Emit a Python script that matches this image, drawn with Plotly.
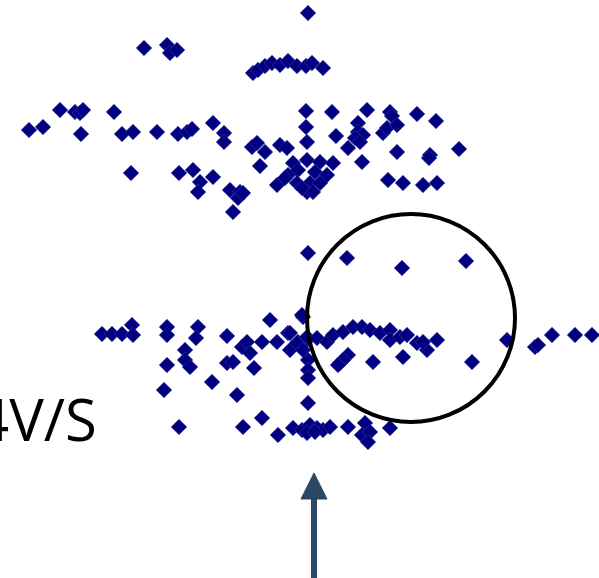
import plotly.graph_objects as go

# Upper band of samples (x, y in plot units)
upper_x = [308, 144, 167, 170, 177,
           253, 258, 265, 272, 280, 288, 297, 306, 312, 323,
           60, 75, 80, 83, 114,
           29, 43, 81, 122, 133, 157, 178, 187, 192, 213, 224, 224,
           131, 179, 193, 200, 198, 213, 230, 240, 238, 233,
           252, 257, 265, 280, 287, 260, 277,
           306, 332, 367, 390, 392, 417, 436, 306, 307, 336,
           358, 358, 363, 355, 360, 383, 387, 397, 348, 362, 397, 430, 429, 459,
           293, 307, 320, 333, 288, 298, 315, 327, 285, 297, 310, 320, 307, 313, 302,
           388, 403, 423, 437, 243]
upper_y = [13, 48, 45, 53, 50,
           73, 70, 66, 63, 65, 61, 66, 66, 63, 68,
           110, 112, 113, 110, 112,
           130, 127, 134, 134, 132, 132, 134, 132, 129, 123, 133, 142,
           173, 173, 170, 182, 192, 177, 190, 192, 198, 212,
           147, 143, 152, 145, 148, 166, 185,
           111, 112, 110, 112, 116, 114, 121, 127, 142, 136,
           123, 132, 135, 138, 142, 133, 128, 125, 148, 162, 152, 155, 158, 149,
           163, 160, 162, 163, 175, 170, 172, 175, 178, 183, 183, 183, 192, 192, 188,
           180, 183, 185, 183, 193]

# Lower band of samples
lower_x = [308, 347, 402, 466,
           102, 112, 122, 132, 133,
           167, 167, 198, 196, 227,
           185, 185, 190, 167, 227, 233,
           242, 247, 250, 262, 254, 212, 164, 237,
           270, 277, 288, 290, 298, 303, 307, 308, 308, 308, 308,
           179, 243, 262, 278,
           293, 302, 310, 317, 323, 330, 307, 315,
           348, 365, 362, 370, 368, 390,
           302, 290, 297, 307, 317, 327, 333, 343, 353, 362, 370, 380, 390, 390,
           400, 407, 417, 427, 437, 423,
           340, 348, 343, 338, 373, 403, 472, 507, 535, 538, 552, 575, 592, 303]
lower_y = [253, 258, 268, 261,
           334, 334, 334, 325, 335,
           327, 335, 327, 338, 336,
           350, 360, 367, 365, 363, 362,
           347, 342, 353, 342, 368, 382, 390, 395,
           320, 342, 333, 350, 342, 317, 340, 360, 370, 378, 403,
           427, 427, 418, 435,
           428, 430, 425, 428, 430, 427, 433, 432,
           427, 423, 435, 432, 442, 428,
           315, 333, 343, 337, 338, 342, 335, 332, 327, 327, 330, 333, 330, 340,
           337, 335, 343, 350, 340, 342,
           363, 355, 360, 365, 362, 357, 362, 340, 347, 345, 335, 335, 335, 350]

label_text = "4V/S"

W, H = 599, 578
marker = dict(symbol="diamond", size=12, color="#000080",
              line=dict(width=0.6, color="#3a3aa0"))

fig = go.Figure()
fig.add_trace(go.Scatter(x=upper_x, y=upper_y, mode="markers", marker=marker,
                         hoverinfo="skip", showlegend=False))
fig.add_trace(go.Scatter(x=lower_x, y=lower_y, mode="markers", marker=marker,
                         hoverinfo="skip", showlegend=False))

# Highlight ring around the off-centre group
fig.add_shape(type="circle", xref="x", yref="y", x0=307, x1=515, y0=214, y1=422,
              line=dict(color="black", width=4))

# Pointer arrow at the bottom
arrow_color = "#2A4766"
fig.add_shape(type="line", xref="x", yref="y", x0=314, x1=314, y0=578, y1=495,
              line=dict(color=arrow_color, width=6))
fig.add_shape(type="path", xref="x", yref="y",
              path="M 301,499 L 327,499 L 314,473 Z",
              fillcolor=arrow_color, line=dict(color=arrow_color, width=1))

fig.add_annotation(x=99, y=418, xref="x", yref="y", text=label_text,
                   showarrow=False, xanchor="right", yanchor="middle",
                   font=dict(family="Open Sans", size=58, color="black"))

fig.update_xaxes(range=[0, W], visible=False, fixedrange=True)
fig.update_yaxes(range=[H, 0], visible=False, fixedrange=True)
fig.update_layout(width=W, height=H, margin=dict(l=0, r=0, t=0, b=0),
                  paper_bgcolor="white", plot_bgcolor="white")

fig.write_html("out.html", config={"displayModeBar": False})
